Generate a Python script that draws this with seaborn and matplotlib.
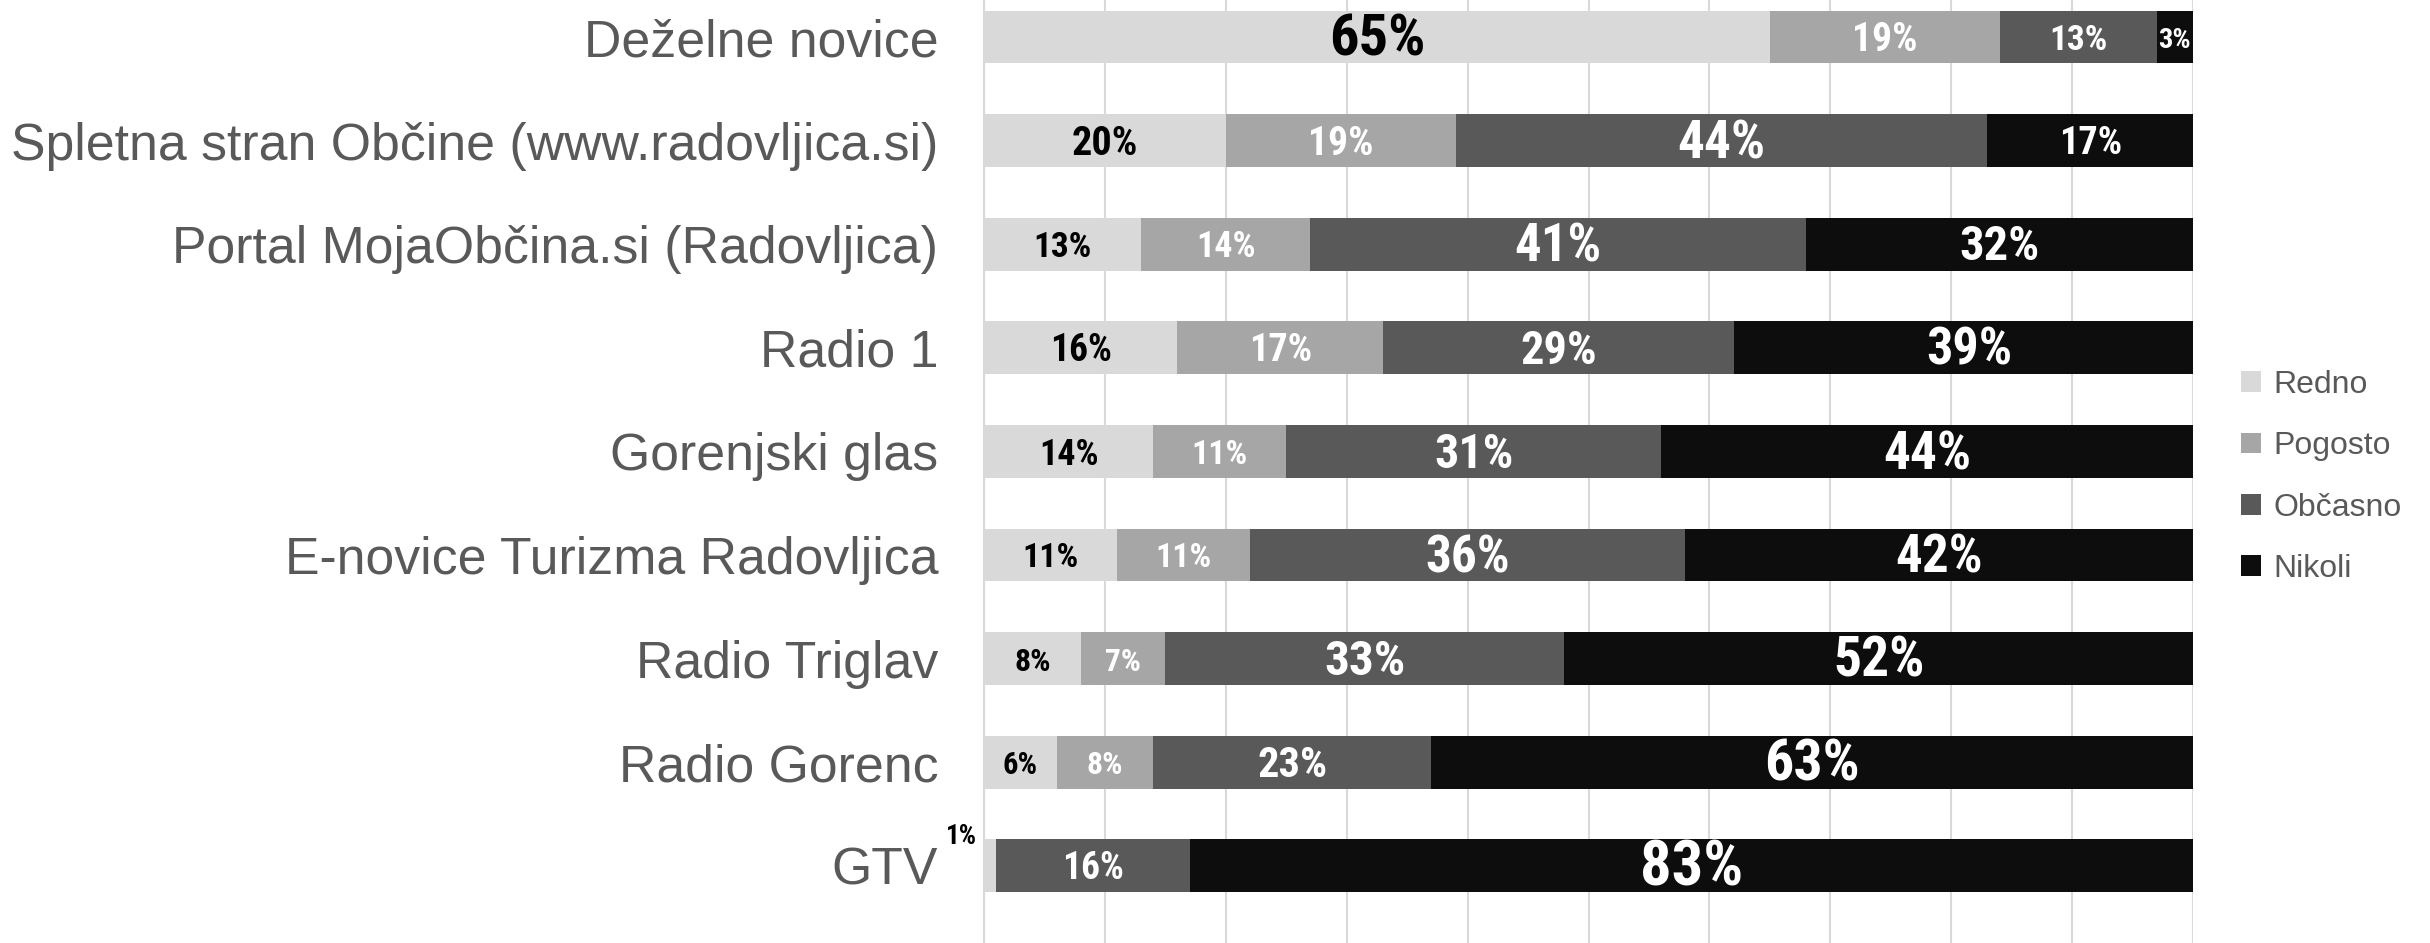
import numpy as np
import pandas as pd
import matplotlib
matplotlib.use("Agg")
import matplotlib.pyplot as plt
import seaborn as sns
from matplotlib.patches import Patch

categories = ["Deželne novice", "Spletna stran Občine (www.radovljica.si)",
              "Portal MojaObčina.si (Radovljica)", "Radio 1", "Gorenjski glas",
              "E-novice Turizma Radovljica", "Radio Triglav", "Radio Gorenc", "GTV"]
series_names = ["Redno", "Pogosto", "Občasno", "Nikoli"]
redno = [65, 20, 13, 16, 14, 11, 8, 6, 1]
pogosto = [19, 19, 14, 17, 11, 11, 7, 8, 0]
obcasno = [13, 44, 41, 29, 31, 36, 33, 23, 16]
nikoli = [3, 17, 32, 39, 44, 42, 52, 63, 83]

colors = ["#d9d9d9", "#a6a6a6", "#595959", "#0d0d0d"]
text_colors = ["black", "white", "white", "white"]
label_gray = "#595959"

sns.set_theme(style="white")
cat_family = ["Liberation Sans", "DejaVu Sans"]
val_family = ["Roboto Condensed", "DejaVu Sans"]
plt.rcParams["font.family"] = cat_family

fig = plt.figure(figsize=(24.3, 9.43), dpi=100)
ax = fig.add_axes([984 / 2430, 0, (2193 - 984) / 2430, 1])

data = [redno, pogosto, obcasno, nikoli]
cums = np.cumsum(np.array(data, dtype=float), axis=0)
df = pd.DataFrame({"cat": categories})
for i in range(3, -1, -1):
    df["v"] = cums[i]
    sns.barplot(data=df, x="v", y="cat", orient="h", color=colors[i],
                width=0.51, saturation=1, ax=ax, linewidth=0)

ax.set_xlim(0, 100)
pitch = 103.6
ax.set_ylim((943 - 37) / pitch, -37 / pitch)
ax.set_xticks(np.arange(0, 101, 10))
ax.xaxis.grid(True, color="#d9d9d9", linewidth=1.5)
ax.set_axisbelow(True)
ax.set_xticklabels([])
ax.set_xlabel("")
ax.set_ylabel("")
for s in ["top", "right", "bottom"]:
    ax.spines[s].set_visible(False)
ax.spines["left"].set_color("#d9d9d9")
ax.spines["left"].set_linewidth(1.5)
ax.tick_params(axis="x", length=0)

# fit the category label size so the longest label spans about 926 px
probe = fig.text(0, 0, categories[1], fontsize=32, family=cat_family)
fig.canvas.draw()
w = probe.get_window_extent().width
probe.remove()
cat_size = 32 * 926 / w
ax.tick_params(axis="y", length=0, pad=33, labelsize=cat_size, labelcolor=label_gray)


def fsize(v):
    h = min(19 + 0.5 * v, 31 + 0.17 * v)
    return 1.0 * h


for i in range(4):
    starts = cums[i] - np.array(data[i])
    for j, v in enumerate(data[i]):
        if v <= 0:
            continue
        if i == 0 and v < 3:
            ax.text(-1.9, j - 0.28, f"{v}%", ha="center", va="center",
                    fontsize=fsize(v), fontweight="bold", color="black",
                    family=val_family, clip_on=False)
            continue
        ax.text(starts[j] + v / 2, j + 0.03, f"{v}%", ha="center", va="center",
                fontsize=fsize(v), fontweight="bold", color=text_colors[i],
                family=val_family)

handles = [Patch(facecolor=c, edgecolor="none") for c in colors]
fig.legend(handles, series_names, loc="center left",
           bbox_to_anchor=(2241 / 2430, 1 - 477 / 943), frameon=False,
           borderpad=0, borderaxespad=0,
           prop={"family": cat_family, "size": 23},
           labelcolor=label_gray, handlelength=0.62, handleheight=0.62,
           handletextpad=0.4, labelspacing=0.98)

fig.savefig("out.png", dpi=100)
